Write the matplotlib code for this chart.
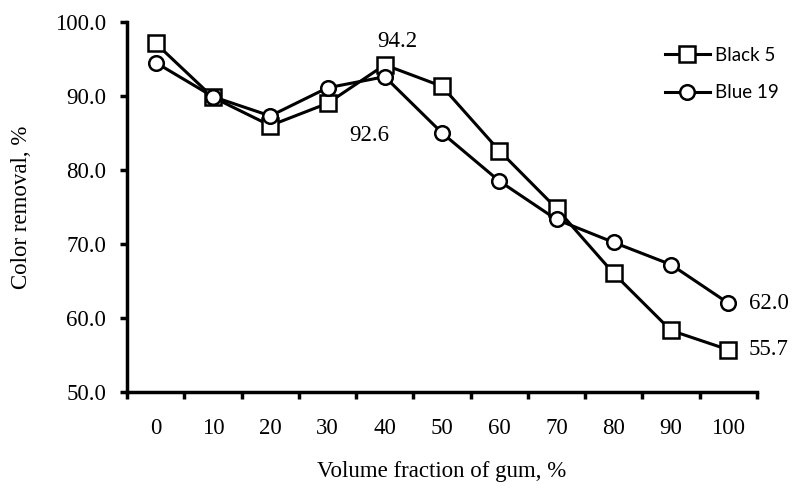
import numpy as np
import matplotlib
matplotlib.use("Agg")
import matplotlib.pyplot as plt

# volume fraction of gum (%) and colour removal (%)
fractions = ["0", "10", "20", "30", "40", "50", "60", "70", "80", "90", "100"]
black5 = [97.1, 89.8, 86.0, 89.0, 94.2, 91.3, 82.6, 74.8, 66.0, 58.3, 55.7]
blue19 = [94.5, 89.9, 87.3, 91.1, 92.6, 85.0, 78.5, 73.3, 70.2, 67.2, 62.0]

plt.rcParams['font.family'] = ['Liberation Serif', 'DejaVu Serif']

fig = plt.figure(figsize=(7.95, 4.88), dpi=100)
ax = fig.add_axes([0.160, 0.197, 0.792, 0.758])

x = np.arange(len(fractions))
ax.plot(x, black5, color='black', lw=2.2, marker='s', ms=11,
        mfc='white', mec='black', mew=1.8, label='Black 5', zorder=3)
ax.plot(x, blue19, color='black', lw=2.2, marker='o', ms=10.5,
        mfc='white', mec='black', mew=1.8, label='Blue 19', zorder=4)

# value labels
ax.annotate('94.2', (4, black5[4]), xytext=(9, 17), textcoords='offset points',
            ha='center', va='center', fontsize=16.5)
ax.annotate('92.6', (4, blue19[4]), xytext=(-11, -42), textcoords='offset points',
            ha='center', va='center', fontsize=16.5)
ax.annotate('62.0', (10, blue19[10]), xytext=(15, 0), textcoords='offset points',
            ha='left', va='center', fontsize=16.5)
ax.annotate('55.7', (10, black5[10]), xytext=(15, 0), textcoords='offset points',
            ha='left', va='center', fontsize=16.5)

ax.set_xlim(-0.5, 10.5)
ax.set_ylim(50, 100)
ax.set_yticks(np.arange(50, 101, 10))
ax.set_yticklabels([f"{v:.1f}" for v in np.arange(50, 101, 10)], fontsize=16.5)

# ticks between categories, labels at the centres
ax.set_xticks(np.arange(-0.5, 10.6, 1))
ax.set_xticklabels([])
ax.set_xticks(x, minor=True)
ax.set_xticklabels(fractions, minor=True, fontsize=16.5)
ax.tick_params(axis='x', which='minor', length=0, pad=19)
ax.tick_params(axis='x', which='major', direction='out', length=5, width=2.5)
ax.tick_params(axis='y', direction='out', length=5, width=2.5, pad=10)

for side in ['top', 'right']:
    ax.spines[side].set_visible(False)
for side in ['left', 'bottom']:
    ax.spines[side].set_linewidth(2.5)

ax.set_xlabel('Volume fraction of gum, %', fontsize=16.5, labelpad=16)
ax.set_ylabel('Color removal, %', fontsize=16.5, labelpad=17)

leg = ax.legend(loc='center left', bbox_to_anchor=(0.836, 0.848),
                bbox_transform=fig.transFigure, frameon=False,
                prop={'family': 'Lato', 'size': 13.5}, handlelength=2.4,
                handletextpad=0.3, labelspacing=1.1, borderpad=0,
                borderaxespad=0)

fig.savefig('out.png', dpi=100)
